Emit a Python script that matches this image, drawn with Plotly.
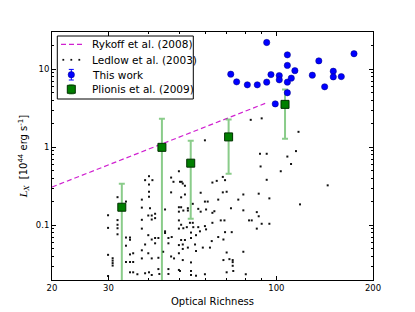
import plotly.graph_objects as go

# Rykoff et al. (2008) relation (dashed line end points)
rykoff_x = [20, 93]
rykoff_y = [0.31, 3.7]

# Ledlow et al. (2003) points
ledlow_x = [29.9, 29.9, 29.9, 29.9, 30.9, 30.9, 30.9, 30.9, 32.0, 32.0, 32.0, 32.0, 32.0,
            34.0, 34.0, 34.0, 34.0, 35.0, 35.0, 35.0, 35.0, 35.0, 35.8, 35.8, 35.8, 36.9,
            38.1, 38.1, 38.1, 38.1, 38.1, 38.1, 39.0, 39.0, 39.0, 39.9, 39.9, 39.9,
            40.1, 40.1, 40.1, 40.1, 40.1, 40.4, 40.9, 40.9, 40.9, 40.9, 40.9, 41.1,
            41.9, 41.9, 41.9, 41.9, 42.9, 42.9, 42.9, 43.2, 44.4, 45.0, 45.0, 45.0,
            46.1, 46.1, 46.1, 46.1, 47.0, 47.0, 47.0, 47.2, 47.8, 48.0,
            49.7, 50.1, 49.7, 49.7, 49.7, 49.7, 49.7, 49.7, 49.7,
            50.5, 50.5, 50.7, 51.1, 51.3, 51.9, 51.9, 53.0, 53.0, 54.9,
            50.5, 51.3, 52.6, 53.8, 54.9, 55.1, 50.5, 51.9, 54.2, 54.2, 56.2,
            51.1, 51.1, 53.0, 55.8, 56.2, 51.1, 54.2, 50.1, 54.2, 54.2, 56.2,
            57.1, 57.1, 57.8, 58.1, 58.1, 59.0, 59.9, 59.9, 61.1, 59.9, 60.4, 60.4, 59.9,
            62.1, 62.9, 63.2, 63.2, 64.1, 63.2, 65.2, 65.9, 65.9, 67.1, 68.1, 68.1,
            68.4, 68.4, 68.9, 69.2, 69.2, 70.0, 70.0, 70.0, 71.4, 72.2, 72.6,
            73.1, 73.1, 73.1, 73.4, 76.1, 78.9, 78.9, 78.9, 80.3, 82.2, 83.8, 83.2,
            86.9, 88.1, 86.9, 88.1, 88.9, 93.3, 89.3, 90.0, 93.3, 95.1, 90.0, 95.1,
            103.2, 108.2, 111.1, 115.1, 117.2, 118.5, 144.5]
ledlow_y = [0.135, 0.093, 0.042, 0.0225, 0.038, 0.0354, 0.0329, 0.0306, 0.230, 0.117, 0.102, 0.092, 0.077,
            0.202, 0.070, 0.055, 0.034, 0.070, 0.0655, 0.0425, 0.034, 0.0251, 0.044, 0.034, 0.0251, 0.0237,
            0.214, 0.169, 0.118, 0.091, 0.048, 0.0378, 0.380, 0.057, 0.0244, 0.134, 0.075, 0.044,
            0.427, 0.334, 0.270, 0.233, 0.0251, 0.166, 0.134, 0.119, 0.066, 0.0378, 0.0232, 0.380,
            0.141, 0.124, 0.069, 0.059, 0.069, 0.0385, 0.0276, 0.0239, 0.046, 0.160, 0.084, 0.080,
            0.069, 0.059, 0.0276, 0.0239, 0.410, 0.265, 0.040, 0.071, 0.362, 0.0378,
            0.494, 0.362, 0.171, 0.150, 0.116, 0.091, 0.056, 0.044, 0.0269,
            0.229, 0.171, 0.362, 0.344, 0.155, 0.322, 0.249, 0.166, 0.155, 0.189,
            0.102, 0.092, 0.095, 0.108, 0.108, 0.095, 0.065, 0.065, 0.081, 0.069, 0.075,
            0.057, 0.050, 0.052, 0.057, 0.047, 0.036, 0.0336, 0.0261, 0.0261, 0.0232, 0.0227,
            0.163, 0.095, 0.084, 0.262, 0.150, 0.052, 1.23, 0.202, 0.202, 0.098, 0.160, 0.089, 0.0237,
            0.052, 0.063, 0.354, 0.145, 0.152, 0.108, 0.372, 0.214, 0.071, 0.116, 0.418, 0.265,
            0.066, 0.036, 0.116, 0.380, 0.082, 0.270, 0.045, 0.0251, 0.037, 0.166, 0.082,
            0.036, 0.0339, 0.0304, 0.0261, 0.214, 0.249, 0.156, 0.046, 0.0237, 0.116, 0.116, 2.25,
            0.148, 0.131, 0.091, 0.255, 0.827, 0.827, 0.569, 2.35, 0.384, 0.222, 0.105, 0.105,
            0.494, 0.762, 0.612, 0.895, 1.58, 0.186, 0.326]

# This work
this_x = [72.1, 75.2, 81.2, 87.2, 93.3, 93.3, 96.2, 99.2, 102.1, 102.1, 108.2, 108.2,
          108.2, 108.2, 111.3, 114.2, 129.4, 135.6, 141.4, 150.4, 150.4, 159.3, 174.5]
this_y = [8.64, 6.9, 6.32, 6.32, 22.0, 6.84, 8.54, 3.6, 8.29, 7.32, 15.3, 11.2,
          6.84, 5.0, 7.69, 9.6, 8.39, 12.8, 5.96, 9.43, 7.98, 8.05, 15.8]

# Plionis et al. (2009)
pl_x = [33.0, 44.0, 54.1, 71.0, 106.4]
pl_y = [0.171, 1.0, 0.627, 1.36, 3.55]
pl_hi = [0.342, 2.33, 1.21, 2.28, 5.5]
pl_lo = [0.005, 0.005, 0.122, 0.458, 1.29]

x_ticks = [20, 30, 100, 200]
x_minor = [40, 50, 60, 70, 80, 90]
y_ticks = [0.1, 1, 10]
y_tick_text = ["0.1", "1", "10"]
y_minor = [0.02, 0.03, 0.04, 0.05, 0.06, 0.07, 0.08, 0.09,
           0.2, 0.3, 0.4, 0.5, 0.6, 0.7, 0.8, 0.9,
           2, 3, 4, 5, 6, 7, 8, 9, 20, 30]

legend_labels = ["Rykoff et al. (2008)", "Ledlow et al. (2003)", "This work", "Plionis et al. (2009)"]

FONT = "DejaVu Sans"
C_RYK = "#d020d0"
C_BLUE = "#0000ff"
C_GREEN = "#007f00"
C_ERR_G = "rgba(60,170,60,0.6)"

W, H = 415, 312
OFF = 8  # page body margin offset of the rendered figure
# plot area on screen (pixels)
SL, SR, ST, SB = 52, 373, 32, 280
PW, PH = SR - SL, SB - ST


def px_x(px):
    return (px - SL) / PW


def px_y(py):
    return (SB - py) / PH


fig = go.Figure()
fig.add_trace(go.Scatter(x=ledlow_x, y=ledlow_y, mode="markers", name=legend_labels[1],
                         marker=dict(color="#111111", size=2, symbol="square")))
fig.add_trace(go.Scatter(x=rykoff_x, y=rykoff_y, mode="lines", name=legend_labels[0],
                         line=dict(color=C_RYK, width=1.2, dash="5px,3px")))
fig.add_trace(go.Scatter(
    x=pl_x, y=pl_y, mode="markers", name=legend_labels[3],
    marker=dict(color=C_GREEN, size=8, symbol="square", line=dict(color="#003000", width=1)),
    error_y=dict(type="data", symmetric=False,
                 array=[h - v for h, v in zip(pl_hi, pl_y)],
                 arrayminus=[v - l for v, l in zip(pl_y, pl_lo)],
                 color=C_ERR_G, thickness=2, width=3)))
fig.add_trace(go.Scatter(x=this_x, y=this_y, mode="markers", name=legend_labels[2],
                         marker=dict(color=C_BLUE, size=6.3, line=dict(color="#000080", width=0.5))))

axis_common = dict(type="log", ticks="inside", mirror="allticks", showline=True,
                   linecolor="black", linewidth=1, showgrid=False, zeroline=False,
                   tickcolor="black", ticklen=4, tickwidth=1, automargin=False,
                   tickfont=dict(family=FONT, size=8.5, color="black"))

fig.update_xaxes(**axis_common, range=[1.30103, 2.30103],
                 tickmode="array", tickvals=x_ticks, ticktext=[str(v) for v in x_ticks],
                 minor=dict(tickmode="array", tickvals=x_minor, ticks="inside", ticklen=2,
                            tickcolor="black", showgrid=False),
                 title=dict(text="Optical Richness", font=dict(family=FONT, size=10, color="black"),
                            standoff=5))
fig.update_yaxes(**axis_common, range=[-1.69897, 1.47712],
                 tickmode="array", tickvals=y_ticks, ticktext=y_tick_text,
                 minor=dict(tickmode="array", tickvals=y_minor, ticks="inside", ticklen=2,
                            tickcolor="black", showgrid=False),
                 title=dict(text="<span style='font-family:DejaVu Serif'><i>L</i><sub><i>X</i></sub></span>"
                                 "  [10<sup>44</sup> erg s<sup>-1</sup>]",
                            font=dict(family=FONT, size=10, color="black"), standoff=6))

# ---- legend drawn as a boxed key in the upper-left corner ----
shapes = []
annotations = []
box = dict(x0=57.3, x1=193.3, y0=36, y1=99)
shapes.append(dict(type="rect", xref="paper", yref="paper", layer="above",
                   x0=px_x(box["x0"]), x1=px_x(box["x1"]), y0=px_y(box["y1"]), y1=px_y(box["y0"]),
                   line=dict(color="black", width=1), fillcolor="white"))
row_y = [44.3, 59.8, 74.7, 89.3]
gx = 71.3
text_x = 90

# Rykoff: dashed line
shapes.append(dict(type="line", xref="paper", yref="paper", layer="above",
                   x0=px_x(61), x1=px_x(82), y0=px_y(row_y[0]), y1=px_y(row_y[0]),
                   line=dict(color=C_RYK, width=1.2, dash="5px,3px")))
# Ledlow: three dots
for dx in (-8, 0, 8):
    shapes.append(dict(type="rect", xref="paper", yref="paper", layer="above",
                       x0=px_x(gx + dx - 0.9), x1=px_x(gx + dx + 0.9),
                       y0=px_y(row_y[1] + 0.9), y1=px_y(row_y[1] - 0.9),
                       line=dict(width=0), fillcolor="#111111"))


def errglyph(cy, half, color, width):
    out = [dict(type="line", xref="paper", yref="paper", layer="above",
                x0=px_x(gx), x1=px_x(gx), y0=px_y(cy + half), y1=px_y(cy - half),
                line=dict(color=color, width=width))]
    for s in (-1, 1):
        out.append(dict(type="line", xref="paper", yref="paper", layer="above",
                        x0=px_x(gx - 2.5), x1=px_x(gx + 2.5),
                        y0=px_y(cy + s * half), y1=px_y(cy + s * half),
                        line=dict(color=color, width=1)))
    return out


# This work: blue circle with error bar
shapes += errglyph(row_y[2], 5.3, C_BLUE, 1)
shapes.append(dict(type="circle", xref="paper", yref="paper", layer="above",
                   x0=px_x(gx - 3.2), x1=px_x(gx + 3.2), y0=px_y(row_y[2] + 3.2), y1=px_y(row_y[2] - 3.2),
                   line=dict(color="#000080", width=0.5), fillcolor=C_BLUE))
# Plionis: green square with error bar
shapes += errglyph(row_y[3], 4.8, C_ERR_G, 2)
shapes.append(dict(type="rect", xref="paper", yref="paper", layer="above",
                   x0=px_x(gx - 4.0), x1=px_x(gx + 4.0), y0=px_y(row_y[3] + 4.0), y1=px_y(row_y[3] - 4.0),
                   line=dict(color="#003000", width=1), fillcolor=C_GREEN))

for lab, ry in zip(legend_labels, row_y):
    annotations.append(dict(text=lab, xref="paper", yref="paper", x=px_x(text_x), y=px_y(ry),
                            xanchor="left", yanchor="middle", showarrow=False,
                            font=dict(family=FONT, size=10.5, color="black")))

fig.update_layout(
    width=W, height=H,
    # figure margins compensate the page's own 8px body offset
    margin=dict(l=SL - OFF, r=W - (SR - OFF), t=ST - OFF, b=H - (SB - OFF)),
    paper_bgcolor="white", plot_bgcolor="white",
    font=dict(family=FONT, size=10, color="black"),
    showlegend=False,
    shapes=shapes,
    annotations=annotations,
)

fig.write_html("out.html")
